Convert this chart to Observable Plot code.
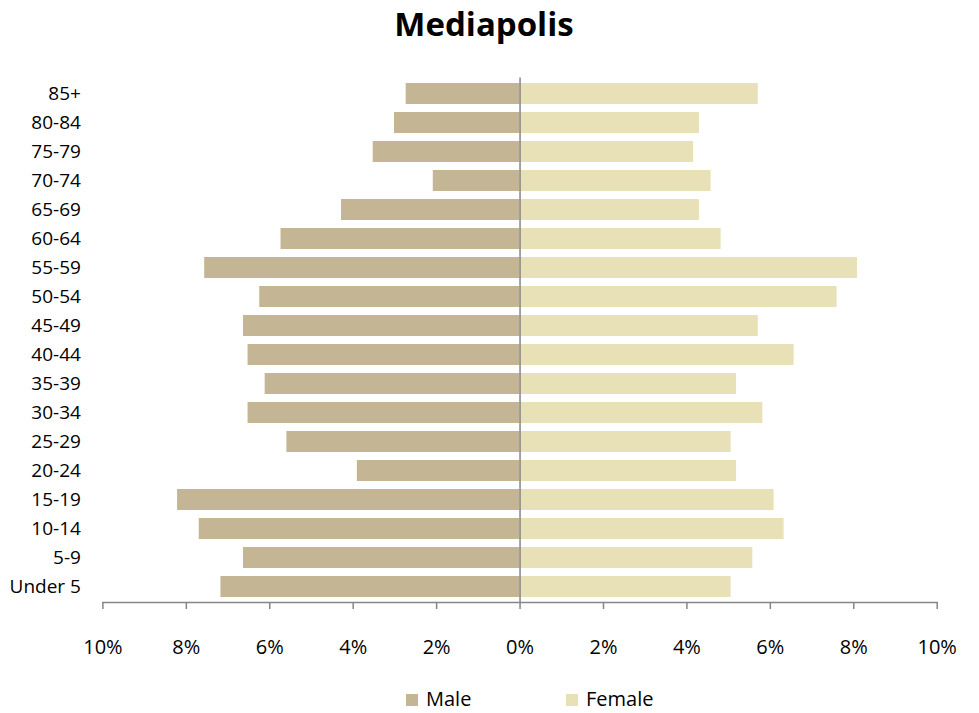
<!DOCTYPE html>
<html>
<head>
<meta charset="utf-8">
<script src="https://cdn.jsdelivr.net/npm/d3@7"></script>
<script src="https://cdn.jsdelivr.net/npm/@observablehq/plot@0.6"></script>
<style>
  html, body { margin: 0; padding: 0; background: #fff; }
  body { width: 979px; height: 713px; position: relative; overflow: hidden; font-family: "Open Sans", sans-serif; }
  #title { position: absolute; left: 0; top: 7px; width: 968px; text-align: center; font-size: 33px; line-height: 33px; font-weight: bold; color: #000; }
  #chart { position: absolute; left: 0; top: 0; }
  .sw { position: absolute; width: 12px; height: 12px; top: 694px; }
  .lt { position: absolute; top: 689px; font-size: 20px; line-height: 20px; color: #000; }
</style>
</head>
<body>
<div id="chart"></div>
<div id="title">Mediapolis</div>
<div class="sw" id="swMale"></div><div class="lt" id="ltMale" style="left:426px"></div>
<div class="sw" id="swFemale"></div><div class="lt" id="ltFemale" style="left:586px"></div>
<script>
const ageGroups = ["85+", "80-84", "75-79", "70-74", "65-69", "60-64", "55-59", "50-54", "45-49", "40-44", "35-39", "30-34", "25-29", "20-24", "15-19", "10-14", "5-9", "Under 5"];
const male =   [2.73, 3.01, 3.52, 2.08, 4.28, 5.73, 7.56, 6.24, 6.63, 6.52, 6.11, 6.52, 5.59, 3.90, 8.21, 7.69, 6.63, 7.17];
const female = [5.71, 4.30, 4.16, 4.58, 4.30, 4.82, 8.09, 7.60, 5.71, 6.57, 5.19, 5.82, 5.06, 5.19, 6.09, 6.33, 5.58, 5.06];
const xTicks = [-10, -8, -6, -4, -2, 0, 2, 4, 6, 8, 10];
const seriesNames = ["Male", "Female"];
const seriesColors = ["#C4B594", "#E8E0B7"];

const table = ageGroups.map((age, i) => ({age, male: male[i], female: female[i]}));

const chart = Plot.plot({
  width: 979,
  height: 713,
  marginTop: 77.4,
  marginBottom: 111,
  marginLeft: 102.4,
  marginRight: 42.3,
  style: {fontFamily: "Open Sans, sans-serif", color: "#000", background: "#fff"},
  x: {domain: [-10, 10], label: null},
  y: {domain: ageGroups, paddingInner: 0.29, paddingOuter: 0.145, label: null},
  marks: [
    Plot.barX(table, {y: "age", x1: 0, x2: d => -d.male, fill: seriesColors[0]}),
    Plot.barX(table, {y: "age", x1: 0, x2: d => d.female, fill: seriesColors[1]}),
    Plot.ruleX([0], {stroke: "#868686", strokeWidth: 1.5}),
    Plot.frame({anchor: "bottom", stroke: "#868686", strokeWidth: 1.5}),
    Plot.axisX({ticks: xTicks, tickSize: 7, tickPadding: 30, stroke: "#868686", strokeWidth: 1.5, strokeOpacity: 1,
      tickFormat: d => Math.abs(d) + "%", fontSize: 20, fill: "#000", label: null}),
    Plot.axisY({tickSize: 0, tickPadding: 22, fontSize: 19, fill: "#000", label: null})
  ]
});
document.getElementById("chart").appendChild(chart);

document.getElementById("swMale").style.cssText += `left:406px;background:${seriesColors[0]}`;
document.getElementById("swFemale").style.cssText += `left:566px;background:${seriesColors[1]}`;
document.getElementById("ltMale").textContent = seriesNames[0];
document.getElementById("ltFemale").textContent = seriesNames[1];
</script>
</body>
</html>
